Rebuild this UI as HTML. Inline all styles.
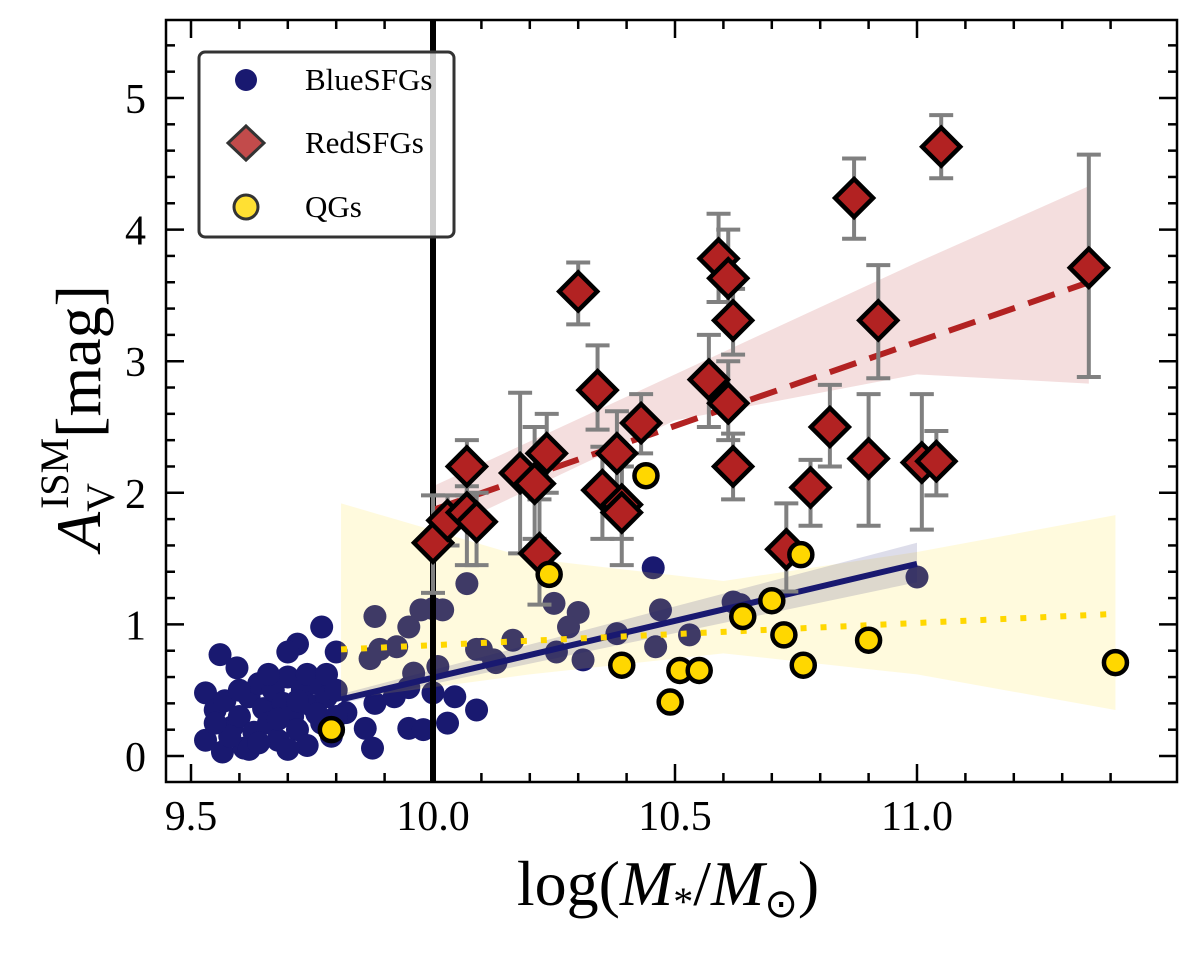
<!DOCTYPE html>
<html><head><meta charset="utf-8"><style>
body{margin:0;background:#fff}
svg{display:block;font-family:"Liberation Serif",serif}
</style></head><body>
<svg id="chart" width="1200" height="954" viewBox="0 0 1200 954" xmlns="http://www.w3.org/2000/svg">
<defs><clipPath id="clip"><rect x="166" y="20" width="1011" height="762"/></clipPath></defs>
<g id="bands" clip-path="url(#clip)"></g>
<g id="marks" clip-path="url(#clip)"></g>
<g id="axes"></g>
<g>
<rect x="199" y="52" width="255" height="185" rx="6" fill="#fff" fill-opacity="0.8" stroke="#333" stroke-width="3"/>
<circle cx="246" cy="80" r="11" fill="#191970"/>
<text x="305" y="90" font-size="31">BlueSFGs</text>
<polygon points="246,126 264,143 246,160 228,143" fill="#c24b4b" stroke="#333" stroke-width="3"/>
<text x="305" y="153" font-size="31">RedSFGs</text>
<circle cx="246" cy="207" r="12" fill="#ffe033" stroke="#333" stroke-width="3"/>
<text x="305" y="217" font-size="31">QGs</text>
</g>
<text x="668" y="905" font-size="64" text-anchor="middle">log(<tspan font-style="italic">M</tspan><tspan font-size="40" dy="10">*</tspan><tspan dy="-10">/</tspan><tspan font-style="italic">M</tspan><tspan font-size="40" dy="12">⊙</tspan><tspan dy="-12">)</tspan></text>
<g transform="translate(100,418) rotate(-90)">
<text x="0" y="0" font-size="64" text-anchor="middle"><tspan font-style="italic">A</tspan><tspan font-size="40" dy="14">V</tspan><tspan font-size="40" dx="-26" dy="-46">ISM</tspan><tspan dy="32">[mag]</tspan></text>
</g>
</svg>
<script>
const xTicks=[9.5,10.0,10.5,11.0];
const xTickLabels=["9.5","10.0","10.5","11.0"];
const yTicks=[0,1,2,3,4,5];
const yTickLabels=["0","1","2","3","4","5"];
const blueX=[9.56,9.595,9.77,9.72,9.70,9.80,9.88,9.95,10.0,10.07,9.89,9.925,9.87,9.96,10.01,10.045,10.09,10.03,9.875,9.95,9.98,9.86,9.82,9.88,9.92,9.95,10.0,10.125,10.10,10.455,10.25,10.30,10.28,10.47,10.38,10.46,10.53,10.31,10.255,10.165,10.09,10.13,10.62,10.02,9.975,11.0,10.635,
9.53,9.53,9.565,9.61,9.585,9.55,9.57,9.60,9.62,9.63,9.64,9.65,9.66,9.67,9.68,9.69,9.70,9.71,9.72,9.73,9.74,9.75,9.76,9.77,9.78,9.79,9.66,9.58,9.62,9.70,9.74,9.78,9.55,9.60,9.68,9.72,9.76,9.64,9.80,9.80];
const blueY=[0.77,0.67,0.98,0.85,0.79,0.79,1.06,0.98,1.12,1.31,0.81,0.83,0.74,0.63,0.68,0.45,0.35,0.25,0.06,0.21,0.20,0.21,0.33,0.40,0.45,0.52,0.48,0.73,0.81,1.43,1.16,1.09,0.98,1.11,0.93,0.83,0.92,0.73,0.79,0.88,0.81,0.71,1.17,1.11,1.11,1.36,1.15,
0.48,0.12,0.03,0.06,0.22,0.35,0.42,0.30,0.45,0.18,0.55,0.36,0.25,0.50,0.12,0.40,0.60,0.30,0.20,0.50,0.08,0.38,0.55,0.25,0.45,0.15,0.62,0.15,0.05,0.05,0.62,0.62,0.25,0.50,0.28,0.42,0.32,0.10,0.50,0.30];
const redX=[10.0,10.03,10.07,10.07,10.09,10.18,10.21,10.22,10.235,10.30,10.34,10.35,10.38,10.39,10.39,10.43,10.57,10.59,10.61,10.62,10.61,10.62,10.73,10.78,10.82,10.87,10.90,10.92,11.01,11.04,11.05,11.355];
const redY=[1.62,1.79,1.85,2.20,1.78,2.15,2.07,1.54,2.30,3.53,2.78,2.02,2.30,1.91,1.85,2.53,2.86,3.78,3.63,3.31,2.68,2.20,1.57,2.04,2.50,4.24,2.26,3.31,2.23,2.24,4.63,3.71];
const redLo=[1.24,1.60,1.45,1.98,1.45,1.54,1.65,1.15,2.00,3.28,2.48,1.65,1.98,1.65,1.45,2.30,2.50,3.45,3.30,3.05,2.40,1.95,1.25,1.75,2.20,3.93,1.75,2.87,1.72,1.98,4.39,2.88];
const redHi=[1.98,1.98,2.05,2.40,2.00,2.76,2.50,1.95,2.60,3.75,3.12,2.35,2.62,2.20,2.20,2.75,3.20,4.12,4.00,3.55,3.00,2.45,1.92,2.25,2.82,4.54,2.75,3.73,2.75,2.47,4.87,4.57];
const qgX=[9.79,10.24,10.44,10.39,10.49,10.51,10.55,10.64,10.70,10.725,10.76,10.765,10.90,11.41];
const qgY=[0.20,1.38,2.13,0.69,0.41,0.65,0.65,1.06,1.18,0.92,1.53,0.69,0.88,0.71];
const blueFitX=[9.81,11.0], blueFitY=[0.43,1.46];
const blueBandUp=[0.47,1.62], blueBandLo=[0.40,1.32];
const redFitX=[10.0,11.355], redFitY=[1.87,3.60];
const redBandX=[10.0,10.5,11.0,11.355], redBandUp=[2.05,2.90,3.75,4.33], redBandLo=[1.68,2.55,2.90,2.83];
const qgFitX=[9.81,11.41], qgFitY=[0.81,1.08];
const qgBandX=[9.81,10.2,10.6,11.0,11.41], qgBandUp=[1.92,1.50,1.33,1.55,1.83], qgBandLo=[0.43,0.62,0.78,0.62,0.35];

const X=v=>191+(v-9.5)*484;
const Y=v=>756-v*131.6;
const NS="http://www.w3.org/2000/svg";
function mk(tag,attrs,parent){const e=document.createElementNS(NS,tag);for(const k in attrs)e.setAttribute(k,attrs[k]);parent.appendChild(e);return e;}
const bands=document.getElementById('bands'),marks=document.getElementById('marks'),axes=document.getElementById('axes');
function band(xs,up,lo,fill,op,name){
 const pts=xs.map((x,i)=>X(x)+','+Y(up[i])).concat(xs.map((x,i)=>X(x)+','+Y(lo[i])).reverse());
 const p=mk('polygon',{points:pts.join(' '),fill:fill,'fill-opacity':op},bands);
 
 
}
blueX.forEach((x,i)=>{const c=mk('circle',{cx:X(x),cy:Y(blueY[i]),r:11.5,fill:'#191970'},bands);

});
band(qgBandX,qgBandUp,qgBandLo,'#ffe033',0.17,'qg-fit-band');
band(redBandX,redBandUp,redBandLo,'#b22222',0.15,'redsfg-fit-band');
band(blueFitX,blueBandUp,blueBandLo,'#191970',0.15,'bluesfg-fit-band');
function line(xs,ys,col,w,dash,name){const l=mk('polyline',{points:xs.map((x,i)=>X(x)+','+Y(ys[i])).join(' '),fill:'none',stroke:col,'stroke-width':w},marks);
 if(dash)l.setAttribute('stroke-dasharray',dash);
 
 }
line(blueFitX,blueFitY,'#191970',6,null,'bluesfg-fit-line');
line(qgFitX,qgFitY,'#ffd700',6,'6 14','qg-fit-line');
const vl=mk('line',{x1:X(10),x2:X(10),y1:20,y2:782,stroke:'#000','stroke-width':6},marks);


line(redFitX,redFitY,'#b22222',6,'28 14','redsfg-fit-line');
redX.forEach((x,i)=>{const g=mk('g',{stroke:'#808080','stroke-width':4},marks);
 
 
 const cx=X(x);mk('line',{x1:cx,x2:cx,y1:Y(redLo[i]),y2:Y(redHi[i])},g);
 mk('line',{x1:cx-12,x2:cx+12,y1:Y(redLo[i]),y2:Y(redLo[i])},g);
 mk('line',{x1:cx-12,x2:cx+12,y1:Y(redHi[i]),y2:Y(redHi[i])},g);});
redX.forEach((x,i)=>{const cx=X(x),cy=Y(redY[i]);
 const p=mk('polygon',{points:`${cx},${cy-19} ${cx+19},${cy} ${cx},${cy+19} ${cx-19},${cy}`,fill:'#b22222',stroke:'#000','stroke-width':4.5},marks);
 
 });
qgX.forEach((x,i)=>{const c=mk('circle',{cx:X(x),cy:Y(qgY[i]),r:11.5,fill:'#ffd700',stroke:'#000','stroke-width':4.5},marks);
 
 });
const fr=mk('rect',{x:166,y:20,width:1011,height:762,fill:'none',stroke:'#000','stroke-width':2.5},axes);


for(let v=9.5;v<=11.45;v+=0.1){const x=X(v);const maj=Math.abs(v*2-Math.round(v*2))<0.01;const L=maj?18:9;
 mk('line',{x1:x,x2:x,y1:782,y2:782-L,stroke:'#000','stroke-width':2.5},axes);
 mk('line',{x1:x,x2:x,y1:20,y2:20+L,stroke:'#000','stroke-width':2.5},axes);}
for(let v=-0.2;v<=5.6;v+=0.2){const y=Y(v);if(y<20||y>782)continue;const maj=Math.abs(v-Math.round(v))<0.01;const L=maj?18:9;
 mk('line',{x1:166,x2:166+L,y1:y,y2:y,stroke:'#000','stroke-width':2.5},axes);
 mk('line',{x1:1177,x2:1177-L,y1:y,y2:y,stroke:'#000','stroke-width':2.5},axes);}
xTicks.forEach((v,i)=>{const t=mk('text',{x:X(v),y:830,'font-size':42,'text-anchor':'middle'},axes);t.textContent=xTickLabels[i];
 
 });
yTicks.forEach((v,i)=>{const t=mk('text',{x:146,y:Y(v)+15,'font-size':42,'text-anchor':'end'},axes);t.textContent=yTickLabels[i];
 
 });
</script>
</body></html>
